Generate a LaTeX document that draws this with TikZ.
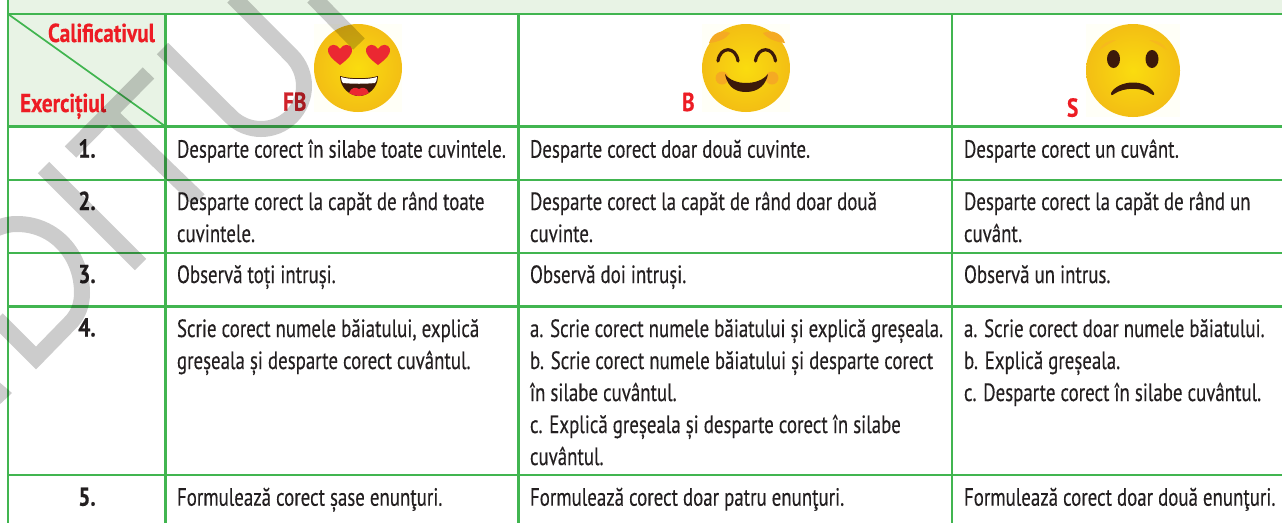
\documentclass[tikz,border=0pt]{standalone}
\usepackage{fontspec}
\setmainfont[FakeStretch=0.755,FakeBold=0.25]{PT Sans}
\newfontfamily\headfont[FakeStretch=0.82,BoldFeatures={FakeBold=0.4}]{PT Sans}
\definecolor{gridgreen}{RGB}{65,181,80}
\definecolor{palegreen}{RGB}{232,243,229}
\definecolor{inkdark}{RGB}{35,31,32}
\definecolor{headred}{RGB}{237,28,36}
\definecolor{fbred}{RGB}{208,34,42}
\definecolor{faceyellow}{RGB}{250,220,15}
\definecolor{faceedge}{RGB}{243,190,20}
\definecolor{browngrey}{RGB}{60,25,10}
\definecolor{blush}{RGB}{245,170,35}
\definecolor{heartred}{RGB}{235,40,50}
\tikzset{
  gridline/.style={draw=gridgreen,line width=2.6pt},
  celltext/.style={anchor=base west,inner sep=0pt,outer sep=0pt,align=left,text=inkdark,font=\fontsize{25}{32}\selectfont},
  numtext/.style={anchor=base,inner sep=0pt,outer sep=0pt,text=inkdark,font=\fontsize{26}{32}\selectfont\headfont\bfseries},
  headtext/.style={anchor=base west,inner sep=0pt,outer sep=0pt,text=headred,font=\fontsize{26}{28}\selectfont\headfont\bfseries},
  markfb/.style={headtext,text=fbred},
  watermark/.style={draw=black,opacity=0.2,line width=16pt,line join=miter,line cap=butt},
  watertip/.style={fill=black,opacity=0.2},
  faceshade/.style={inner color=faceyellow,middle color=faceyellow,outer color=faceedge},
}
\begin{document}
\begin{tikzpicture}[x=1pt,y=-1pt]
\useasboundingbox (0,0) rectangle (1282,523);
\fill[white] (0,0) rectangle (1282,523);
% tinted areas
\fill[palegreen] (8,0) rectangle (1282,14);
\fill[palegreen] (8,14) rectangle (165.5,126.5);
% grid
\draw[gridline] (8,0) -- (8,523);
\draw[gridline] (165.5,14) -- (165.5,523);
\draw[gridline] (518.5,14) -- (518.5,523);
\draw[gridline] (952,14) -- (952,523);
\foreach \yy in {14,126.5,180,253,306.5,475} \draw[gridline] (8,\yy) -- (1282,\yy);
\draw[draw=gridgreen,line width=1.7pt] (8,14) -- (165.5,126.5);

% emoji FB
\fill[white!97!yellow] (314,24) rectangle (402,112);
\shade[faceshade] (358,68) circle[radius=44pt];
\foreach \hx in {340,378}{
  \fill[heartred] (\hx,65) .. controls (\hx-8,59) and (\hx-13,54) .. (\hx-12,49)
    .. controls (\hx-11,44) and (\hx-3,43) .. (\hx,49)
    .. controls (\hx+3,43) and (\hx+11,44) .. (\hx+12,49)
    .. controls (\hx+13,54) and (\hx+8,59) .. (\hx,65) -- cycle;
}
\fill[browngrey] (340,76) .. controls (350,79) and (368,79) .. (378,76)
  .. controls (378,88) and (368,96) .. (359,96) .. controls (350,96) and (340,88) .. (340,76) -- cycle;
\fill[white] (341,77) .. controls (350,80) and (368,80) .. (377,77)
  .. controls (377,80) and (376,82) .. (375,83) .. controls (365,84) and (353,84) .. (343,83)
  .. controls (342,82) and (341,80) .. (341,77) -- cycle;
\fill[heartred] (349,93) .. controls (351,87) and (356,87) .. (359,89)
  .. controls (362,87) and (367,87) .. (369,93) .. controls (363,97) and (355,97) .. (349,93) -- cycle;

% emoji B
\fill[white!97!yellow] (702,24) rectangle (790,112);
\shade[faceshade] (746,68) circle[radius=44pt];
\fill[blush] (722,78) circle[radius=6.5pt];
\fill[blush] (772,78) circle[radius=6.5pt];
\fill[blush] (709,43) .. controls (712,33) and (722,29) .. (730,33) .. controls (726,39) and (718,42) .. (709,43) -- cycle;
\fill[blush] (785,43) .. controls (782,33) and (772,29) .. (763,33) .. controls (768,39) and (776,42) .. (785,43) -- cycle;
\foreach \ex in {728,765.5}{
  \draw[browngrey,line width=3.2pt,line cap=round] (\ex-10,61) .. controls (\ex-8,46) and (\ex+8,46) .. (\ex+10,61);
}
\fill[browngrey] (725,74) .. controls (733,86) and (759,86) .. (768,74)
  .. controls (765,90) and (752,92) .. (746,92) .. controls (739,92) and (728,90) .. (725,74) -- cycle;

% emoji S
\fill[white!97!yellow] (1086,24) rectangle (1180,117);
\shade[faceshade] (1133,70.5) ellipse[x radius=47pt,y radius=46.5pt];
\fill[blush!70!faceyellow] (1099,50) .. controls (1102,44) and (1108,40) .. (1116,40) .. controls (1110,43) and (1105,46) .. (1099,50) -- cycle;
\fill[blush!70!faceyellow] (1167,50) .. controls (1164,44) and (1158,40) .. (1149,40) .. controls (1155,43) and (1161,46) .. (1167,50) -- cycle;
\fill[browngrey] (1113.5,59) ellipse[x radius=6.5pt,y radius=9pt];
\fill[browngrey] (1152,59) ellipse[x radius=6.5pt,y radius=9pt];
\fill[browngrey] (1111,93) .. controls (1118,80) and (1146,78) .. (1154,93)
  .. controls (1155,96) and (1152,95) .. (1151,94) .. controls (1142,87) and (1124,87) .. (1114,94)
  .. controls (1112,96) and (1110,95) .. (1111,93) -- cycle;

% header labels
\node[headtext] (calif) at (48,42) {Calificativul};
\node[headtext] (exer) at (20,112) {Exercițiul};
\node[markfb] (fb) at (283,110.7) {FB};
\node[headtext] (b) at (682,111) {B};
\node[headtext] (s) at (1067,116.7) {S};

% row numbers
\node[numtext] (n1) at (87,157.7) {1.};
\node[numtext] (n2) at (87,210) {2.};
\node[numtext] (n3) at (87,283) {3.};
\node[numtext] (n4) at (87,336.5) {4.};
\node[numtext] (n5) at (87,505.7) {5.};

% column FB (a multi-line node is placed by the baseline of its last line)
\node[celltext] (a1) at (177,157.7) {Desparte corect în silabe toate cuvintele.};
\node[celltext] (a2) at (177,242) {Desparte corect la capăt de rând toate\\cuvintele.};
\node[celltext] (a3) at (177,283) {Observă toți intruși.};
\node[celltext] (a4) at (177,369) {Scrie corect numele băiatului, explică\\greșeala și desparte corect cuvântul.};
\node[celltext] (a5) at (177,505.7) {Formulează corect șase enunţuri.};
% column B
\node[celltext] (b1) at (530,157.7) {Desparte corect doar două cuvinte.};
\node[celltext] (b2) at (530,242) {Desparte corect la capăt de rând doar două\\cuvinte.};
\node[celltext] (b3) at (530,283) {Observă doi intruși.};
\node[celltext] (b4) at (530,465) {a. Scrie corect numele băiatului și explică greșeala.\\b. Scrie corect numele băiatului și desparte corect\\în silabe cuvântul.\\c. Explică greșeala și desparte corect în silabe\\cuvântul.};
\node[celltext] (b5) at (530,505.7) {Formulează corect doar patru enunţuri.};
% column S
\node[celltext] (c1) at (964,157.7) {Desparte corect un cuvânt.};
\node[celltext] (c2) at (964,242) {Desparte corect la capăt de rând un\\cuvânt.};
\node[celltext] (c3) at (964,283) {Observă un intrus.};
\node[celltext] (c4) at (964,401) {a. Scrie corect doar numele băiatului.\\b. Explică greșeala.\\c. Desparte corect în silabe cuvântul.};
\node[celltext] (c5) at (964,505.7) {Formulează corect doar două enunţuri.};

% watermark letters
\draw[watermark]
  (-3,319) -- (36,358) -- (72,321) .. controls (78,314) and (82,305) .. (82,293)
    .. controls (82,255) and (55,224) .. (17,224) .. controls (10,224) and (5,225) .. (-5,229)
  (43.5,167.5) -- (140.5,264.5)
  (70.5,152) -- (148.5,73)
  (114.5,118.5) -- (199,200)
  (162.5,48.5) -- (230.6,116.4) .. controls (247.4,133.2) and (274.6,133.2) .. (291.4,116.4)
    .. controls (308.2,99.6) and (308.2,72.4) .. (291.4,55.6) -- (233,-3)
  (313,-3) -- (359,44);
\fill[watertip] (-2,381) -- (12,393) -- (-2,406) -- cycle;
\end{tikzpicture}
\end{document}
